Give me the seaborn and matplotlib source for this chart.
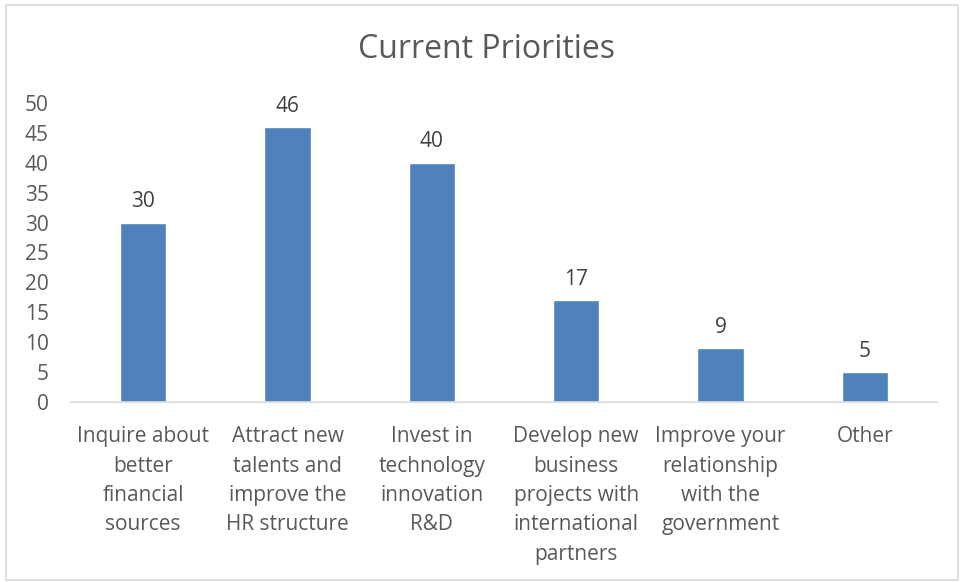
import matplotlib
matplotlib.use("Agg")
import matplotlib.pyplot as plt
import seaborn as sns
import pandas as pd
from matplotlib.patches import Rectangle

categories = [
    "Inquire about\nbetter\nfinancial\nsources",
    "Attract new\ntalents and\nimprove the\nHR structure",
    "Invest in\ntechnology\ninnovation\nR&D",
    "Develop new\nbusiness\nprojects with\ninternational\npartners",
    "Improve your\nrelationship\nwith the\ngovernment",
    "Other",
]
values = [30, 46, 40, 17, 9, 5]
yticks = [0, 5, 10, 15, 20, 25, 30, 35, 40, 45, 50]
title = "Current Priorities"

sns.set_theme(style="white")
plt.rcParams["font.family"] = ["Open Sans", "DejaVu Sans"]

df = pd.DataFrame({"cat": categories, "val": values})

fig = plt.figure(figsize=(9.65, 5.82), dpi=100)
ax = fig.add_axes([71/965, 180/582, 866/965, 299/582])

sns.barplot(data=df, x="cat", y="val", color="#4f81bd", saturation=1,
            width=0.32, ax=ax)

text_color = "#595959"
ax.set_ylim(0, 50)
ax.set_xlim(-0.5, len(categories) - 0.5)
ax.set_yticks(yticks)
ax.set_yticklabels([str(t) for t in yticks], fontsize=15, color=text_color)
ax.tick_params(axis="y", length=0, pad=16)
ax.tick_params(axis="x", length=0, pad=17.5)
for lbl in ax.get_xticklabels():
    lbl.set_fontsize(15)
    lbl.set_color(text_color)
    lbl.set_linespacing(1.52)
    lbl.set_verticalalignment("top")
ax.set_xlabel("")
ax.set_ylabel("")

for s in ["top", "right", "left"]:
    ax.spines[s].set_visible(False)
ax.spines["bottom"].set_color("#d9d9d9")
ax.spines["bottom"].set_linewidth(1.2)

for i, v in enumerate(values):
    ax.annotate(str(v), (i, v), xytext=(0, 7.5), textcoords="offset points",
                ha="center", va="bottom", fontsize=15, color="#404040")

fig.text(487/965, 1 - 50/582, title, ha="center", va="center",
         fontsize=23, color=text_color)

fig.patches.append(Rectangle((6/965, 2/582), 952/965, 575/582,
                             transform=fig.transFigure, fill=False,
                             edgecolor="#d9d9d9", linewidth=1.2))

fig.savefig("out.png", dpi=100)
